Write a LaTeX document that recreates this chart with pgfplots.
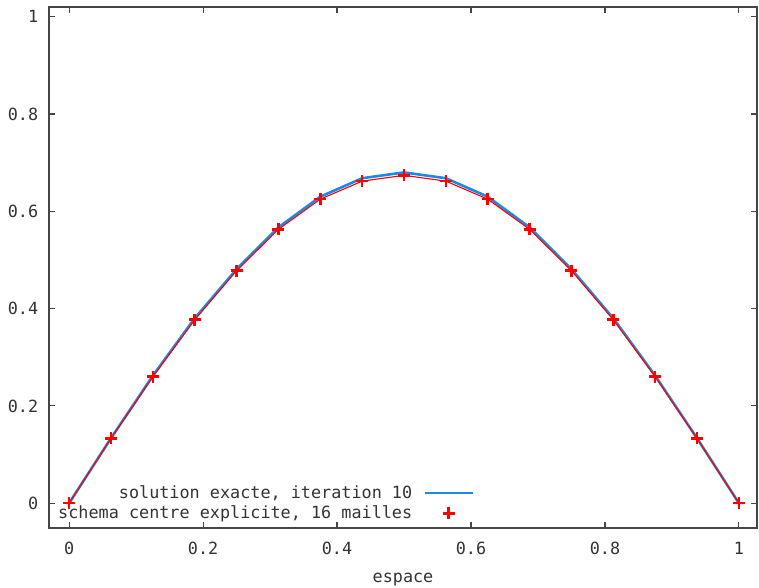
\documentclass[border=0pt]{standalone}
\usepackage{pgfplots}
\pgfplotsset{compat=1.18}
\usepackage{fontspec}
\setmainfont{DejaVu Sans Mono}
\definecolor{gblue}{RGB}{30,136,229}
\definecolor{gaxis}{RGB}{70,70,70}
\pgfplotsset{
  lineleg/.style={legend image code/.code={\path (0pt,0pt) (66pt,0pt); \draw[##1] (9pt,0pt) -- (57pt,0pt);}},
  markleg/.style={legend image code/.code={\path (0pt,0pt) (66pt,0pt); \draw[##1,only marks] plot coordinates {(33pt,0pt)};}},
}
\begin{document}
\fontsize{16.8}{19}\selectfont
\begin{tikzpicture}
\begin{axis}[
  scale only axis,
  width=708pt, height=521pt,
  xmin=-0.03, xmax=1.027, ymin=-0.051, ymax=1.02,
  xtick={0,0.2,0.4,0.6,0.8,1},
  ytick={0,0.2,0.4,0.6,0.8,1},
  tick align=inside,
  major tick length=6pt,
  axis line style={gaxis, line width=1.3pt},
  tick style={gaxis, line width=1.1pt},
  /pgf/number format/assume math mode=true,
  ticklabel style={font=\fontsize{16.8}{19}\selectfont, text=black!80},
  xticklabel style={yshift=-8pt},
  yticklabel style={xshift=-5pt},
  xlabel={espace},
  xlabel style={font=\fontsize{16.8}{19}\selectfont, text=black!80, yshift=-7pt},
  legend plot pos=right,
  legend cell align=right,
  legend style={at={(axis cs:-0.0195,-0.041)}, anchor=south west, draw=none, fill=none,
     inner sep=0pt, row sep=1pt, font=\fontsize{16.8}{19}\selectfont, text=black!80,
     nodes={inner sep=2pt}},
]
\addplot[gblue, line width=2.6pt, lineleg] coordinates {
(0,0) (0.0625,0.1335) (0.125,0.262) (0.1875,0.380) (0.25,0.481) (0.3125,0.567)
(0.375,0.630) (0.4375,0.668) (0.5,0.680) (0.5625,0.668) (0.625,0.630)
(0.6875,0.567) (0.75,0.481) (0.8125,0.380) (0.875,0.262) (0.9375,0.1335) (1,0)
};
\addlegendentry{solution exacte, iteration 10}
\addplot[red, line width=1.1pt, mark=+, mark size=6pt, mark options={line width=2.6pt}, markleg] coordinates {
(0,0) (0.0625,0.133) (0.125,0.260) (0.1875,0.377) (0.25,0.478) (0.3125,0.563)
(0.375,0.625) (0.4375,0.662) (0.5,0.674) (0.5625,0.662) (0.625,0.625)
(0.6875,0.563) (0.75,0.478) (0.8125,0.377) (0.875,0.260) (0.9375,0.133) (1,0)
};
\addlegendentry{schema centre explicite, 16 mailles}
\end{axis}
\pgfresetboundingbox
\path ([shift={(-49pt,-59pt)}]current axis.south west) rectangle ++(759pt,587pt);
\end{tikzpicture}
\end{document}
